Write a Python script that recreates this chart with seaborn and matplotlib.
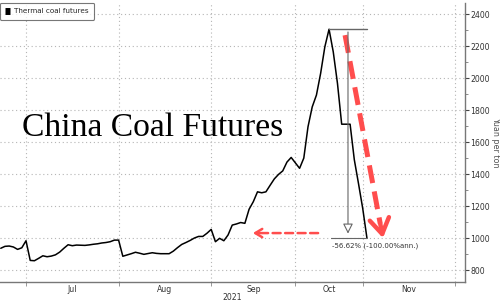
import matplotlib
matplotlib.use("Agg")
import matplotlib.pyplot as plt
import seaborn as sns
import pandas as pd
from matplotlib.patches import FancyArrowPatch

# ---- data (trading-day index since 1 Jul 2021, futures price in yuan/ton) ----
trading_day = list(range(-6, 82))
price = [936, 948, 950, 944, 929, 939,
         983, 860, 858, 873, 889, 883, 887, 895, 912, 936, 958, 952, 956, 955,
         954, 957, 961, 964, 969, 972, 977, 987,
         987, 886, 894, 902, 911, 905, 898, 903, 908, 904, 902, 902, 902, 918,
         940, 960, 972, 985, 1000, 1010, 1010, 1030,
         1054, 977, 998, 983, 1019, 1081, 1088, 1097, 1092, 1180, 1227, 1289,
         1283, 1289, 1330, 1370, 1398, 1420, 1475, 1504,
         1470, 1436, 1500, 1696, 1820, 1894, 2030, 2196, 2306, 2164, 1967,
         1712, 1712, 1712, 1490, 1340,
         1185, 1000]
trading_day = trading_day[:len(price)]

month_bounds = [0, 22, 44, 64, 80, 102]
month_mid = [11, 33, 54, 72, 91]
month_labels = ["Jul", "Aug", "Sep", "Oct", "Nov"]
year_label = "2021"
y_ticks = [800, 1000, 1200, 1400, 1600, 1800, 2000, 2200, 2400]
series_name = "Thermal coal futures"
title_text = "China Coal Futures"
y_label = "Yuan per ton"
peak_value = 2306
end_value = 1000
measure_text = "-56.62% (-100.00%ann.)"

df = pd.DataFrame({"day": trading_day, "price": price})

sns.set_theme(style="white")
plt.rcParams["font.family"] = ["DejaVu Sans"]

fig = plt.figure(figsize=(5.0, 3.01), dpi=100)
ax = fig.add_axes([0.0, 1 - 282 / 301, 465 / 500, (282 - 3) / 301])

sns.lineplot(data=df, x="day", y="price", color="black", linewidth=1.1, ax=ax,
             label=series_name)

ax.set_xlim(-6.18, 104.3)
ax.set_ylim(725, 2470)

# grid
grid_kw = dict(color="#b5b5b5", linestyle=(0, (1, 2.5)), linewidth=0.8)
for yv in y_ticks:
    ax.axhline(yv, zorder=0, **grid_kw)
for xv in month_bounds:
    ax.axvline(xv, zorder=0, **grid_kw)

# spines
for s in ["left", "top"]:
    ax.spines[s].set_visible(False)
for s in ["right", "bottom"]:
    ax.spines[s].set_color("#777777")
    ax.spines[s].set_linewidth(1.0)

# y axis on right
ax.yaxis.tick_right()
ax.yaxis.set_label_position("right")
ax.set_yticks(y_ticks)
ax.set_yticklabels([str(v) for v in y_ticks])
ax.set_yticks(list(range(900, 2500, 200)), minor=True)
ax.tick_params(axis="y", which="major", direction="out", length=3, width=0.8,
               color="#444444", labelsize=5.6, labelcolor="#333333", pad=1)
ax.tick_params(axis="y", which="minor", direction="out", length=2, width=0.6,
               color="#777777", right=True)
ax.set_ylabel(y_label, rotation=-90, fontsize=5.8, color="#555555", labelpad=7)

# x axis
ax.set_xticks(month_bounds)
ax.set_xticklabels([""] * len(month_bounds))
ax.set_xticks(month_mid, minor=True)
ax.set_xticklabels(month_labels, minor=True)
ax.tick_params(axis="x", which="major", direction="out", length=3, width=0.6,
               color="#888888", bottom=True)
ax.tick_params(axis="x", which="minor", length=0, labelsize=5.6,
               labelcolor="#333333", pad=2, bottom=True)
ax.set_xlabel("")
fig.text(232 / 500, 1 - 297 / 301, year_label, fontsize=5.6, color="#333333",
         ha="center", va="center")

# legend
leg = ax.legend(loc="upper left", bbox_to_anchor=(0.0, 1.0), fontsize=5.2,
                frameon=True, handlelength=0.7, handletextpad=0.5,
                borderpad=0.75, borderaxespad=0.0, fancybox=True)
leg.get_frame().set_edgecolor("#555555")
leg.get_frame().set_linewidth(0.8)
for h in leg.legend_handles:
    h.set_linewidth(5)
    h.set_solid_capstyle("butt")

# title text inside chart
ax.text(22 / 465 * (104.3 + 6.18) - 6.18, 1640, title_text,
        family="Liberation Serif", fontsize=24.2, color="black",
        ha="left", va="baseline")

# measurement annotation
gray = "#666666"
ax.plot([72, 81], [peak_value, peak_value], color=gray, lw=1.0)
ax.plot([72.5, 81], [end_value, end_value], color=gray, lw=0.8)
ax.annotate("", xy=(76.5, end_value + 10), xytext=(76.5, peak_value),
            arrowprops=dict(arrowstyle="-|>,head_length=0.5,head_width=0.25",
                            color=gray, lw=0.8, fc="white"))
ax.text(72.7, end_value - 25, measure_text, fontsize=5.0, color="#333333",
        ha="left", va="top")

# red dashed arrows (shaft dashed, head solid chevron)
red = "#ff4d4d"
big_start, big_tip = (75.8, 2269), (84.8, 1000)
fx = big_start[0] + (big_tip[0] - big_start[0]) * 0.93
fy = big_start[1] + (big_tip[1] - big_start[1]) * 0.93
ax.add_patch(FancyArrowPatch(big_start, (fx, fy), arrowstyle="-",
                             linestyle=(0, (3.6, 1.7)), lw=3.6, color=red,
                             capstyle="butt", shrinkA=0, shrinkB=0))
ax.add_patch(FancyArrowPatch((fx, fy), big_tip,
                             arrowstyle="->,head_length=11,head_width=7",
                             lw=3.2, color=red, mutation_scale=1,
                             shrinkA=0, shrinkB=0))

small_start, small_tip = (69.4, 1031), (53.9, 1031)
ax.add_patch(FancyArrowPatch(small_start, (55.0, 1031), arrowstyle="-",
                             linestyle=(0, (3.2, 1.8)), lw=1.8, color=red,
                             shrinkA=0, shrinkB=0))
ax.add_patch(FancyArrowPatch((55.5, 1031), small_tip,
                             arrowstyle="->,head_length=5,head_width=3",
                             lw=1.8, color=red, mutation_scale=1,
                             shrinkA=0, shrinkB=0))

fig.savefig("out.png", dpi=100)
